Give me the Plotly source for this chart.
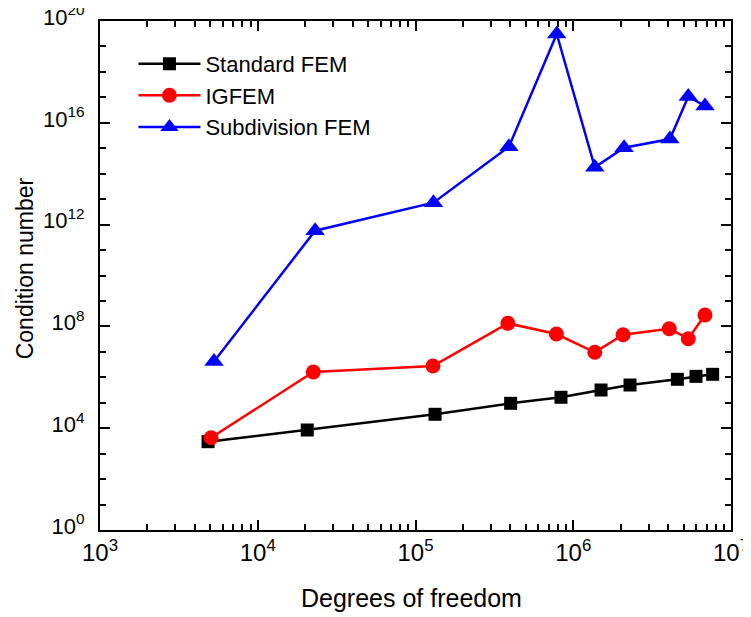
import plotly.graph_objects as go

# Data
std_x = [4840, 20600, 133000, 401000, 836000, 1.50e6, 2.29e6, 4.57e6, 6.0e6, 7.65e6]
std_y = [2950, 8500, 35200, 95100, 1.64e5, 3.17e5, 4.98e5, 8.34e5, 1.09e6, 1.31e6]

igfem_x = [5060, 22500, 1.29e5, 3.85e5, 7.82e5, 1.37e6, 2.07e6, 4.06e6, 5.36e6, 6.84e6]
igfem_y = [4230, 1.61e6, 2.78e6, 1.32e8, 5.03e7, 9.6e6, 4.72e7, 8.1e7, 3.29e7, 2.8e8]

sub_x = [5280, 23100, 1.30e5, 3.91e5, 7.86e5, 1.37e6, 2.10e6, 4.10e6, 5.36e6, 6.84e6]
sub_y = [4.18e6, 5.75e11, 7.25e12, 1.15e15, 3.09e19, 1.78e14, 1.05e15, 2.3e15, 1.07e17, 4.57e16]

x_tick_exp = [3, 4, 5, 6, 7]
y_tick_exp = [0, 4, 8, 12, 16, 20]

font = "Liberation Sans, Arial, sans-serif"


def pow_label(e):
    return f"10<sup>{e}</sup>"


fig = go.Figure()
fig.add_trace(go.Scatter(x=std_x, y=std_y, mode="lines+markers", name="Standard FEM",
                         line=dict(color="black", width=2.5),
                         marker=dict(symbol="square", size=13, color="black")))
fig.add_trace(go.Scatter(x=igfem_x, y=igfem_y, mode="lines+markers", name="IGFEM",
                         line=dict(color="#ff0000", width=2.5),
                         marker=dict(symbol="circle", size=15, color="#ff0000")))
fig.add_trace(go.Scatter(x=sub_x, y=sub_y, mode="lines+markers", name="Subdivision FEM",
                         line=dict(color="#0000ff", width=2.5),
                         marker=dict(symbol="triangle-up", size=17, color="#0000ff")))

x_minor = [float(m * 10 ** e) for e in range(3, 7) for m in range(2, 10)]
y_minor = [10.0 ** e for e in range(0, 21)]

fig.update_xaxes(type="log", range=[3, 7], automargin=False, ticklabeloverflow="allow",
                 tickvals=[10.0 ** e for e in x_tick_exp],
                 ticktext=[pow_label(e) for e in x_tick_exp],
                 ticks="inside", ticklen=10, tickwidth=2, tickcolor="black",
                 minor=dict(tickvals=x_minor, ticks="inside", ticklen=6, tickwidth=2, tickcolor="black"),
                 showline=True, linewidth=2, linecolor="black", mirror="ticks",
                 showgrid=False, zeroline=False,
                 tickfont=dict(family=font, size=24, color="black"))
fig.update_yaxes(type="log", range=[0, 20], automargin=False, ticklabeloverflow="allow",
                 tickvals=[10.0 ** e for e in y_tick_exp],
                 ticktext=[pow_label(e) for e in y_tick_exp],
                 ticks="inside", ticklen=10, tickwidth=2, tickcolor="black",
                 minor=dict(tickvals=y_minor, ticks="inside", ticklen=6, tickwidth=2, tickcolor="black"),
                 showline=True, linewidth=2, linecolor="black", mirror="ticks",
                 showgrid=False, zeroline=False,
                 ticklabelstandoff=9, ticklabelshift=-4,
                 tickfont=dict(family=font, size=22, color="black"))

fig.add_annotation(text="Degrees of freedom", xref="paper", yref="paper",
                   x=0.494, y=-0.1336, xanchor="center", yanchor="middle", showarrow=False,
                   font=dict(family=font, size=25, color="black"))
fig.add_annotation(text="Condition number", xref="paper", yref="paper",
                   x=-0.119, y=0.514, xanchor="center", yanchor="middle", showarrow=False,
                   textangle=-90, font=dict(family=font, size=23, color="black"))

fig.update_layout(width=751, height=617,
                  margin=dict(l=92, r=28, t=13, b=95),
                  paper_bgcolor="white", plot_bgcolor="white",
                  showlegend=True,
                  legend=dict(x=0.053, y=0.957, xanchor="left", yanchor="top",
                              font=dict(family=font, size=22, color="black"),
                              bgcolor="rgba(0,0,0,0)", itemwidth=62, tracegroupgap=0))

fig.write_html("out.html")
